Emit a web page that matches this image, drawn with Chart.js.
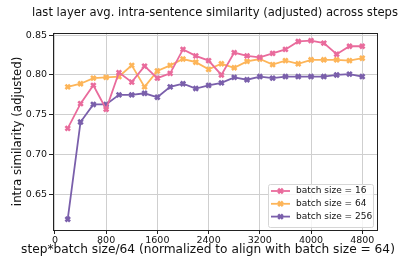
<!DOCTYPE html>
<html>
<head>
<meta charset="utf-8">
<script src="https://cdn.jsdelivr.net/npm/chart.js@4/dist/chart.umd.min.js"></script>
<style>
  html, body { margin: 0; padding: 0; background: #fff; }
  #wrap { width: 420px; height: 262px; }
</style>
</head>
<body>
<div id="wrap"><canvas id="simChart" width="420" height="262"></canvas></div>
<script>
const steps = [200, 400, 600, 800, 1000, 1200, 1400, 1600, 1800, 2000, 2200, 2400,
               2600, 2800, 3000, 3200, 3400, 3600, 3800, 4000, 4200, 4400, 4600, 4800];
const bs16 = [0.733, 0.764, 0.787, 0.757, 0.803, 0.791, 0.811, 0.796, 0.802, 0.832, 0.824, 0.818,
              0.800, 0.828, 0.824, 0.822, 0.827, 0.832, 0.842, 0.843, 0.840, 0.826, 0.836, 0.836];
const bs64 = [0.785, 0.789, 0.796, 0.797, 0.798, 0.812, 0.785, 0.805, 0.812, 0.820, 0.816, 0.807,
              0.814, 0.809, 0.817, 0.820, 0.813, 0.818, 0.814, 0.819, 0.819, 0.819, 0.818, 0.821];
const bs256 = [0.619, 0.741, 0.763, 0.763, 0.775, 0.775, 0.777, 0.772, 0.785, 0.789, 0.783, 0.787,
               0.790, 0.797, 0.794, 0.798, 0.796, 0.798, 0.798, 0.798, 0.798, 0.800, 0.801, 0.798];
const xTicks = [0, 800, 1600, 2400, 3200, 4000, 4800];
const yTicks = [0.65, 0.70, 0.75, 0.80, 0.85];
const seriesLabels = ['batch size = 16', 'batch size = 64', 'batch size = 256'];
const seriesColors = ['#e96b9c', '#fdb559', '#7a5fab'];
const chartTitle = 'last layer avg. intra-sentence similarity (adjusted) across steps';
const xTitle = 'step*batch size/64 (normalized to align with batch size = 64)';

const font = "'DejaVu Sans', sans-serif";

function series(i, values) {
    return {
        label: seriesLabels[i],
        data: steps.map((s, k) => ({ x: s, y: values[k] })),
        borderColor: seriesColors[i],
        backgroundColor: seriesColors[i],
        borderWidth: 1.8,
        pointStyle: 'crossRot',
        pointRadius: 3.2,
        pointBorderWidth: 2.6,
        pointHoverRadius: 3.2,
        tension: 0
    };
}

// matplotlib-style box, titles and in-plot legend
const framePlugin = {
    id: 'frame',
    afterDraw(chart) {
        const { ctx, chartArea: a } = chart;
        ctx.save();
        ctx.strokeStyle = '#222';
        ctx.lineWidth = 1;
        ctx.strokeRect(Math.round(a.left) + 0.5, Math.round(a.top) + 0.5,
            Math.round(a.right - a.left), Math.round(a.bottom - a.top));

        ctx.fillStyle = '#111';
        ctx.textAlign = 'center';
        ctx.textBaseline = 'middle';
        ctx.font = '11.6px ' + font;
        ctx.fillText(chartTitle, (a.left + a.right) / 2, 13);
        ctx.font = '12.2px ' + font;
        ctx.fillText(xTitle, 208, 250);

        const bx = 268.5, by = 184.5, bw = 105, bh = 43;
        ctx.fillStyle = 'rgba(255,255,255,0.8)';
        ctx.strokeStyle = '#d6d6d6';
        ctx.beginPath();
        ctx.roundRect(bx, by, bw, bh, 2);
        ctx.fill();
        ctx.stroke();
        ctx.font = '9px ' + font;
        ctx.textAlign = 'left';
        chart.data.datasets.forEach((ds, i) => {
            const y = 191 + i * 12.8;
            ctx.strokeStyle = ds.borderColor;
            ctx.lineWidth = 1.8;
            ctx.beginPath();
            ctx.moveTo(271, y);
            ctx.lineTo(290, y);
            ctx.stroke();
            ctx.lineWidth = 2.6;
            ctx.beginPath();
            ctx.moveTo(278.2, y - 2.3); ctx.lineTo(282.8, y + 2.3);
            ctx.moveTo(278.2, y + 2.3); ctx.lineTo(282.8, y - 2.3);
            ctx.stroke();
            ctx.fillStyle = '#111';
            ctx.fillText(ds.label, 296, y);
        });
        ctx.restore();
    }
};

new Chart(document.getElementById('simChart'), {
    type: 'line',
    data: {
        datasets: [series(0, bs16), series(1, bs64), series(2, bs256)]
    },
    options: {
        responsive: false,
        animation: false,
        layout: { padding: { left: 0, right: 43, top: 32.7, bottom: 0 } },
        scales: {
            x: {
                type: 'linear',
                min: -30,
                max: 5030,
                afterBuildTicks: s => { s.ticks = xTicks.map(v => ({ value: v })); },
                afterFit: s => { s.height = 32; },
                grid: { color: '#cfcfcf', lineWidth: 1, tickLength: 4, tickColor: '#222' },
                border: { display: false },
                ticks: {
                    color: '#111', font: { family: font, size: 9.5 }, padding: 1, maxRotation: 0,
                    callback: v => String(v)
                }
            },
            y: {
                min: 0.6055,
                max: 0.853,
                afterBuildTicks: s => { s.ticks = yTicks.map(v => ({ value: v })); },
                afterFit: s => { s.width = 53; },
                grid: { color: '#cfcfcf', lineWidth: 1, tickLength: 4, tickColor: '#222' },
                border: { display: false },
                ticks: {
                    color: '#111', font: { family: font, size: 9.5 }, padding: 2,
                    callback: v => v.toFixed(2)
                },
                title: {
                    display: true,
                    text: 'intra similarity (adjusted)',
                    color: '#111',
                    font: { family: font, size: 11.8 },
                    padding: { top: 11, bottom: 0 }
                }
            }
        },
        plugins: {
            legend: { display: false },
            tooltip: { enabled: false },
            title: { display: false }
        }
    },
    plugins: [framePlugin]
});
</script>
</body>
</html>
